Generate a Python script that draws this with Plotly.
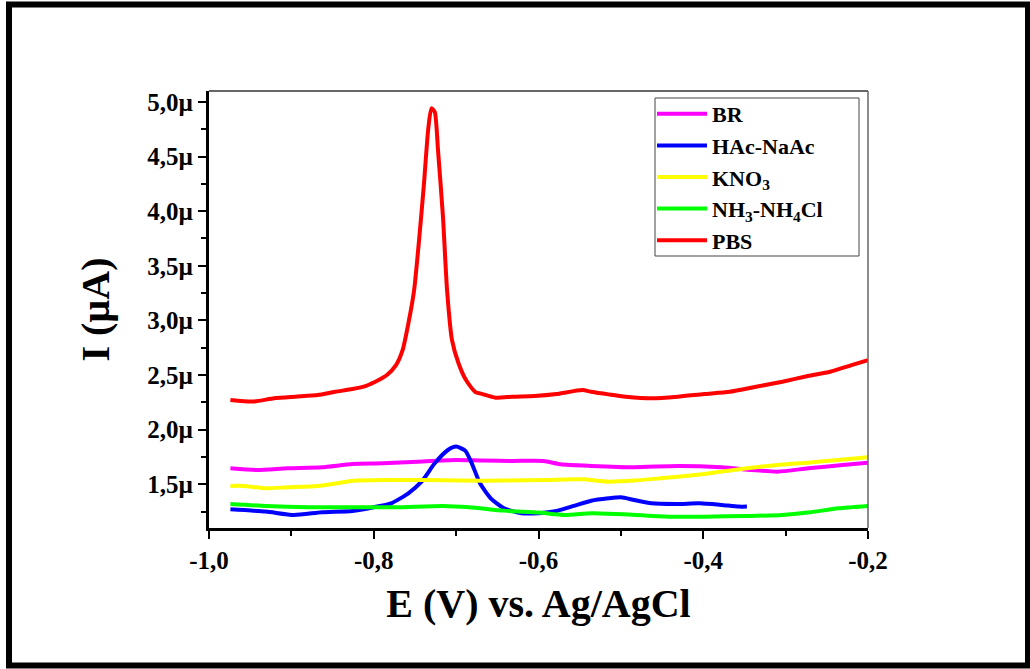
import plotly.graph_objects as go

# ---- data (E in V, I in µA) ----
pbs_E = [-0.974, -0.947, -0.921, -0.895, -0.868, -0.847, -0.826, -0.810, -0.794, -0.784,
         -0.773, -0.765, -0.758, -0.751, -0.745, -0.739, -0.734, -0.730, -0.726, -0.722,
         -0.716, -0.711, -0.705, -0.697, -0.688, -0.677, -0.668, -0.652, -0.631, -0.605,
         -0.578, -0.547, -0.536, -0.515, -0.494, -0.462, -0.431, -0.399, -0.368, -0.336,
         -0.304, -0.273, -0.246, -0.220, -0.200]
pbs_I = [2.272, 2.257, 2.287, 2.302, 2.317, 2.347, 2.372, 2.399, 2.454, 2.500,
         2.591, 2.728, 2.972, 3.277, 3.735, 4.254, 4.742, 4.941, 4.910, 4.560,
         3.950, 3.277, 2.819, 2.606, 2.454, 2.347, 2.326, 2.293, 2.302, 2.308,
         2.326, 2.363, 2.347, 2.323, 2.302, 2.287, 2.302, 2.326, 2.347, 2.393,
         2.439, 2.491, 2.530, 2.591, 2.637]

br_E = [-0.974, -0.942, -0.905, -0.863, -0.826, -0.789, -0.747, -0.700, -0.668, -0.631,
        -0.594, -0.573, -0.536, -0.484, -0.431, -0.378, -0.341, -0.310, -0.273, -0.231, -0.200]
br_I = [1.646, 1.631, 1.646, 1.656, 1.686, 1.692, 1.707, 1.723, 1.717, 1.714,
        1.714, 1.683, 1.668, 1.656, 1.668, 1.656, 1.631, 1.616, 1.646, 1.677, 1.698]

kno3_E = [-0.974, -0.958, -0.931, -0.905, -0.868, -0.821, -0.779, -0.737, -0.694, -0.642,
          -0.589, -0.547, -0.515, -0.484, -0.452, -0.410, -0.378, -0.347, -0.310, -0.273,
          -0.236, -0.200]
kno3_I = [1.485, 1.485, 1.463, 1.473, 1.485, 1.534, 1.540, 1.540, 1.534, 1.534,
          1.540, 1.546, 1.524, 1.534, 1.555, 1.585, 1.616, 1.646, 1.677, 1.698,
          1.723, 1.747]

nh3_E = [-0.974, -0.931, -0.879, -0.826, -0.773, -0.716, -0.684, -0.642, -0.600, -0.568,
         -0.536, -0.505, -0.442, -0.399, -0.347, -0.304, -0.273, -0.236, -0.200]
nh3_I = [1.320, 1.302, 1.290, 1.290, 1.290, 1.302, 1.290, 1.259, 1.241, 1.219,
         1.235, 1.228, 1.204, 1.204, 1.210, 1.219, 1.241, 1.280, 1.302]

hac_E = [-0.974, -0.931, -0.897, -0.863, -0.826, -0.800, -0.779, -0.758, -0.742, -0.726,
         -0.710, -0.700, -0.689, -0.681, -0.671, -0.658, -0.642, -0.621, -0.600, -0.578,
         -0.557, -0.536, -0.515, -0.500, -0.484, -0.463, -0.431, -0.405, -0.378, -0.357, -0.347]
hac_I = [1.271, 1.250, 1.219, 1.244, 1.256, 1.290, 1.326, 1.418, 1.524, 1.692,
         1.814, 1.845, 1.808, 1.692, 1.509, 1.372, 1.280, 1.235, 1.235, 1.256,
         1.302, 1.350, 1.372, 1.381, 1.357, 1.326, 1.320, 1.326, 1.311, 1.296, 1.296]

x_ticks = [-1.0, -0.8, -0.6, -0.4, -0.2]
x_labels = ["-1,0", "-0,8", "-0,6", "-0,4", "-0,2"]
x_minor = [-0.9, -0.7, -0.5, -0.3]
y_ticks = [1.5, 2.0, 2.5, 3.0, 3.5, 4.0, 4.5, 5.0]
y_labels = ["1,5µ", "2,0µ", "2,5µ", "3,0µ", "3,5µ", "4,0µ", "4,5µ", "5,0µ"]
y_minor = [1.25, 1.75, 2.25, 2.75, 3.25, 3.75, 4.25, 4.75]

series = [
    ("BR", br_E, br_I, "#FF00FF"),
    ("HAc-NaAc", hac_E, hac_I, "#0000FF"),
    ("KNO<sub>3</sub>", kno3_E, kno3_I, "#FFFF00"),
    ("NH<sub>3</sub>-NH<sub>4</sub>Cl", nh3_E, nh3_I, "#00FF00"),
    ("PBS", pbs_E, pbs_I, "#FF0000"),
]

FONT = "Liberation Serif"

fig = go.Figure()
for name, xs, ys, col in series:
    fig.add_trace(go.Scatter(x=xs, y=ys, mode="lines", name=name,
                             line=dict(color=col, width=4, shape="spline", smoothing=0.6)))

W, H = 1030, 669
L, R, T, B = 209, 1030 - 868, 91, 669 - 528
pw, ph = W - L - R, H - T - B

def px(xp):
    return (xp - L) / pw

def py(yp):
    return (H - B - yp) / ph

fig.update_layout(
    width=W, height=H,
    margin=dict(l=L, r=R, t=T, b=B),
    paper_bgcolor="white", plot_bgcolor="white",
    font=dict(family=FONT, color="black"),
    showlegend=True,
    legend=dict(x=px(652), y=py(93), xanchor="left", yanchor="top",
                bgcolor="rgba(0,0,0,0)", borderwidth=0,
                font=dict(family=FONT, size=22, color="black", weight="bold"),
                tracegroupgap=0, itemwidth=50),
    xaxis=dict(range=[-1.0, -0.2], showgrid=False, zeroline=False,
               showline=True, linecolor="black", linewidth=3,
               tickmode="array", tickvals=x_ticks, ticktext=x_labels,
               ticks="outside", ticklen=8, tickwidth=2, tickcolor="black",
               tickfont=dict(family=FONT, size=25, color="black", weight="bold"),
               minor=dict(tickvals=x_minor, ticks="outside", ticklen=5, tickwidth=2, tickcolor="black"),
               title=dict(text="E (V) vs. Ag/AgCl", standoff=16,
                          font=dict(family=FONT, size=40, color="black", weight="bold"))),
    yaxis=dict(range=[1.1, 5.1], showgrid=False, zeroline=False,
               showline=True, linecolor="black", linewidth=3,
               tickmode="array", tickvals=y_ticks, ticktext=y_labels,
               ticks="outside", ticklen=8, tickwidth=2, tickcolor="black",
               tickfont=dict(family=FONT, size=25, color="black", weight="bold"),
               minor=dict(tickvals=y_minor, ticks="outside", ticklen=5, tickwidth=2, tickcolor="black"),
               title=dict(text="I (µA)", standoff=26,
                          font=dict(family=FONT, size=40, color="black", weight="bold"))),
    shapes=[
        dict(type="line", xref="paper", yref="paper", x0=0, x1=1, y0=1, y1=1,
             line=dict(color="#333", width=1.5)),
        dict(type="line", xref="paper", yref="paper", x0=1, x1=1, y0=0, y1=1,
             line=dict(color="#666", width=1.5)),
        dict(type="rect", xref="paper", yref="paper",
             x0=px(655), x1=px(859), y0=py(256), y1=py(98),
             line=dict(color="#444", width=1), fillcolor="rgba(0,0,0,0)"),
        dict(type="rect", xref="paper", yref="paper",
             x0=px(9), x1=px(1028), y0=py(665.5), y1=py(4.5),
             line=dict(color="black", width=6), fillcolor="rgba(0,0,0,0)"),
    ],
)

fig.write_html("out.html")
